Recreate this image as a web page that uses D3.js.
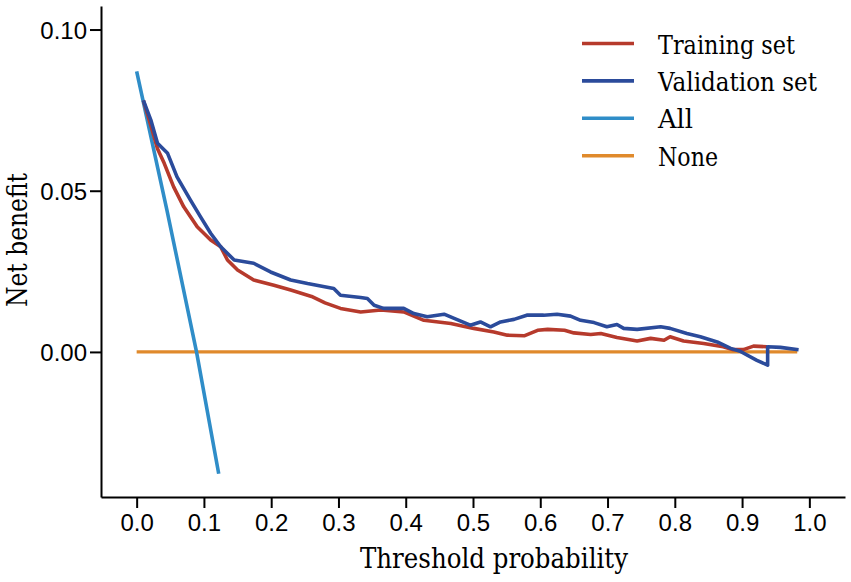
<!DOCTYPE html>
<html>
<head>
<meta charset="utf-8">
<script src="https://cdn.jsdelivr.net/npm/d3@7"></script>
<style>
  body { margin: 0; background: #fff; }
</style>
</head>
<body>
<div id="chart"></div>
<script>
  // decision curve values
  const trainingThreshold = [0.010, 0.020, 0.031, 0.041, 0.055, 0.070, 0.090, 0.110, 0.125, 0.135, 0.150, 0.174, 0.204, 0.229, 0.260, 0.280, 0.303, 0.333, 0.363, 0.397, 0.427, 0.467, 0.501, 0.531, 0.551, 0.576, 0.596, 0.611, 0.636, 0.650, 0.675, 0.690, 0.714, 0.744, 0.764, 0.784, 0.793, 0.813, 0.843, 0.872, 0.887, 0.902, 0.917, 0.937];
  const trainingNetBenefit = [0.0780, 0.0710, 0.0630, 0.0585, 0.0512, 0.0450, 0.0388, 0.0347, 0.0326, 0.0285, 0.0254, 0.0223, 0.0207, 0.0192, 0.0172, 0.0152, 0.0135, 0.0124, 0.0130, 0.0124, 0.0098, 0.0088, 0.0073, 0.0062, 0.0052, 0.0050, 0.0067, 0.0070, 0.0067, 0.0059, 0.0054, 0.0057, 0.0045, 0.0034, 0.0042, 0.0036, 0.0047, 0.0034, 0.0026, 0.0016, 0.0007, 0.0007, 0.0018, 0.0016];

  const validationThreshold = [0.010, 0.021, 0.031, 0.046, 0.060, 0.080, 0.095, 0.110, 0.125, 0.145, 0.174, 0.199, 0.229, 0.254, 0.293, 0.303, 0.333, 0.343, 0.353, 0.367, 0.397, 0.412, 0.432, 0.457, 0.472, 0.496, 0.511, 0.526, 0.541, 0.561, 0.580, 0.605, 0.625, 0.645, 0.660, 0.680, 0.699, 0.714, 0.724, 0.744, 0.779, 0.793, 0.818, 0.838, 0.863, 0.883, 0.897, 0.922, 0.938, 0.938, 0.957, 0.984];
  const validationNetBenefit = [0.0780, 0.0720, 0.0647, 0.0616, 0.0543, 0.0471, 0.0419, 0.0368, 0.0326, 0.0285, 0.0275, 0.0248, 0.0223, 0.0212, 0.0197, 0.0176, 0.0169, 0.0166, 0.0145, 0.0135, 0.0135, 0.0119, 0.0109, 0.0117, 0.0104, 0.0083, 0.0093, 0.0078, 0.0093, 0.0101, 0.0114, 0.0114, 0.0117, 0.0111, 0.0098, 0.0091, 0.0078, 0.0085, 0.0073, 0.0070, 0.0078, 0.0073, 0.0057, 0.0047, 0.0031, 0.0011, 0.0002, -0.0026, -0.0041, 0.0016, 0.0014, 0.0007];

  const allThreshold = [0.0, 0.045, 0.089, 0.122];
  const allNetBenefit = [0.087, 0.044, 0.0, -0.0378];

  const noneThreshold = [0.0, 0.982];
  const noneNetBenefit = [0.0, 0.0];

  const xTicks = [0, 0.1, 0.2, 0.3, 0.4, 0.5, 0.6, 0.7, 0.8, 0.9, 1.0];
  const yTicks = [0, 0.05, 0.1];

  const seriesNames = ["Training set", "Validation set", "All", "None"];
  const seriesColors = ["#b63a2c", "#2b4b9b", "#2f8dc8", "#e08a2c"];

  const SANS = "'Liberation Sans', Arial, sans-serif";
  const SERIF = "'DejaVu Serif', serif";

  const W = 851, H = 582;
  const margin = { top: 6, right: 6, bottom: 85, left: 101 };

  const svg = d3
    .select("#chart")
    .append("svg")
    .attr("width", W)
    .attr("height", H);

  const x = d3.scaleLinear().domain([-0.053, 1.053]).range([margin.left, W - margin.right]);
  const y = d3.scaleLinear().domain([-0.045, 0.1073]).range([H - margin.bottom, margin.top]);

  // axes
  const xAxis = svg
    .append("g")
    .attr("transform", `translate(0,${H - margin.bottom})`)
    .call(d3.axisBottom(x).tickValues(xTicks).tickFormat(d3.format(".1f")).tickSize(11).tickSizeOuter(0).tickPadding(6));

  const yAxis = svg
    .append("g")
    .attr("transform", `translate(${margin.left},0)`)
    .call(d3.axisLeft(y).tickValues(yTicks).tickFormat(d3.format(".2f")).tickSize(11).tickSizeOuter(0).tickPadding(3));

  [xAxis, yAxis].forEach((g) => {
    g.attr("font-family", SANS).attr("font-size", 24);
    g.select(".domain").attr("stroke", "#000").attr("stroke-width", 2);
    g.selectAll(".tick line").attr("stroke", "#000").attr("stroke-width", 2);
    g.selectAll(".tick text").attr("fill", "#000");
  });
  yAxis.selectAll(".tick text").attr("dy", "0.36em");

  // serif text squeezed to the width of the original Times lettering
  function serifText(sel, size, width) {
    return sel
      .attr("font-family", SERIF)
      .attr("font-size", size)
      .attr("textLength", width)
      .attr("lengthAdjust", "spacingAndGlyphs");
  }

  // axis titles
  svg
    .append("text")
    .attr("x", 494)
    .attr("y", 568)
    .attr("text-anchor", "middle")
    .call(serifText, 27.5, 268)
    .text("Threshold probability");

  svg
    .append("text")
    .attr("transform", `translate(27,${y(0.0347)}) rotate(-90)`)
    .attr("text-anchor", "middle")
    .call(serifText, 27.5, 134)
    .text("Net benefit");

  // curves
  const line = d3
    .line()
    .x((d) => x(d[0]))
    .y((d) => y(d[1]));

  const series = [
    { xs: trainingThreshold, ys: trainingNetBenefit },
    { xs: validationThreshold, ys: validationNetBenefit },
    { xs: allThreshold, ys: allNetBenefit },
    { xs: noneThreshold, ys: noneNetBenefit },
  ];

  // draw in order: none, all, training, validation
  [3, 2, 0, 1].forEach((i) => {
    const s = series[i];
    svg
      .append("path")
      .datum(s.xs.map((t, j) => [t, s.ys[j]]))
      .attr("fill", "none")
      .attr("stroke", seriesColors[i])
      .attr("stroke-width", i === 3 ? 3.2 : 3.6)
      .attr("stroke-linejoin", "round")
      .attr("d", line);
  });

  // legend
  const legendWidths = [137, 159, 35, 60];
  const legend = svg.append("g");
  seriesNames.forEach((name, i) => {
    const ly = 43.5 + i * 37.4;
    legend
      .append("line")
      .attr("x1", 582)
      .attr("x2", 634)
      .attr("y1", ly)
      .attr("y2", ly)
      .attr("stroke", seriesColors[i])
      .attr("stroke-width", 3.6);
    legend
      .append("text")
      .attr("x", 658)
      .attr("y", ly + 10)
      .call(serifText, 26, legendWidths[i])
      .text(name);
  });
</script>
</body>
</html>
